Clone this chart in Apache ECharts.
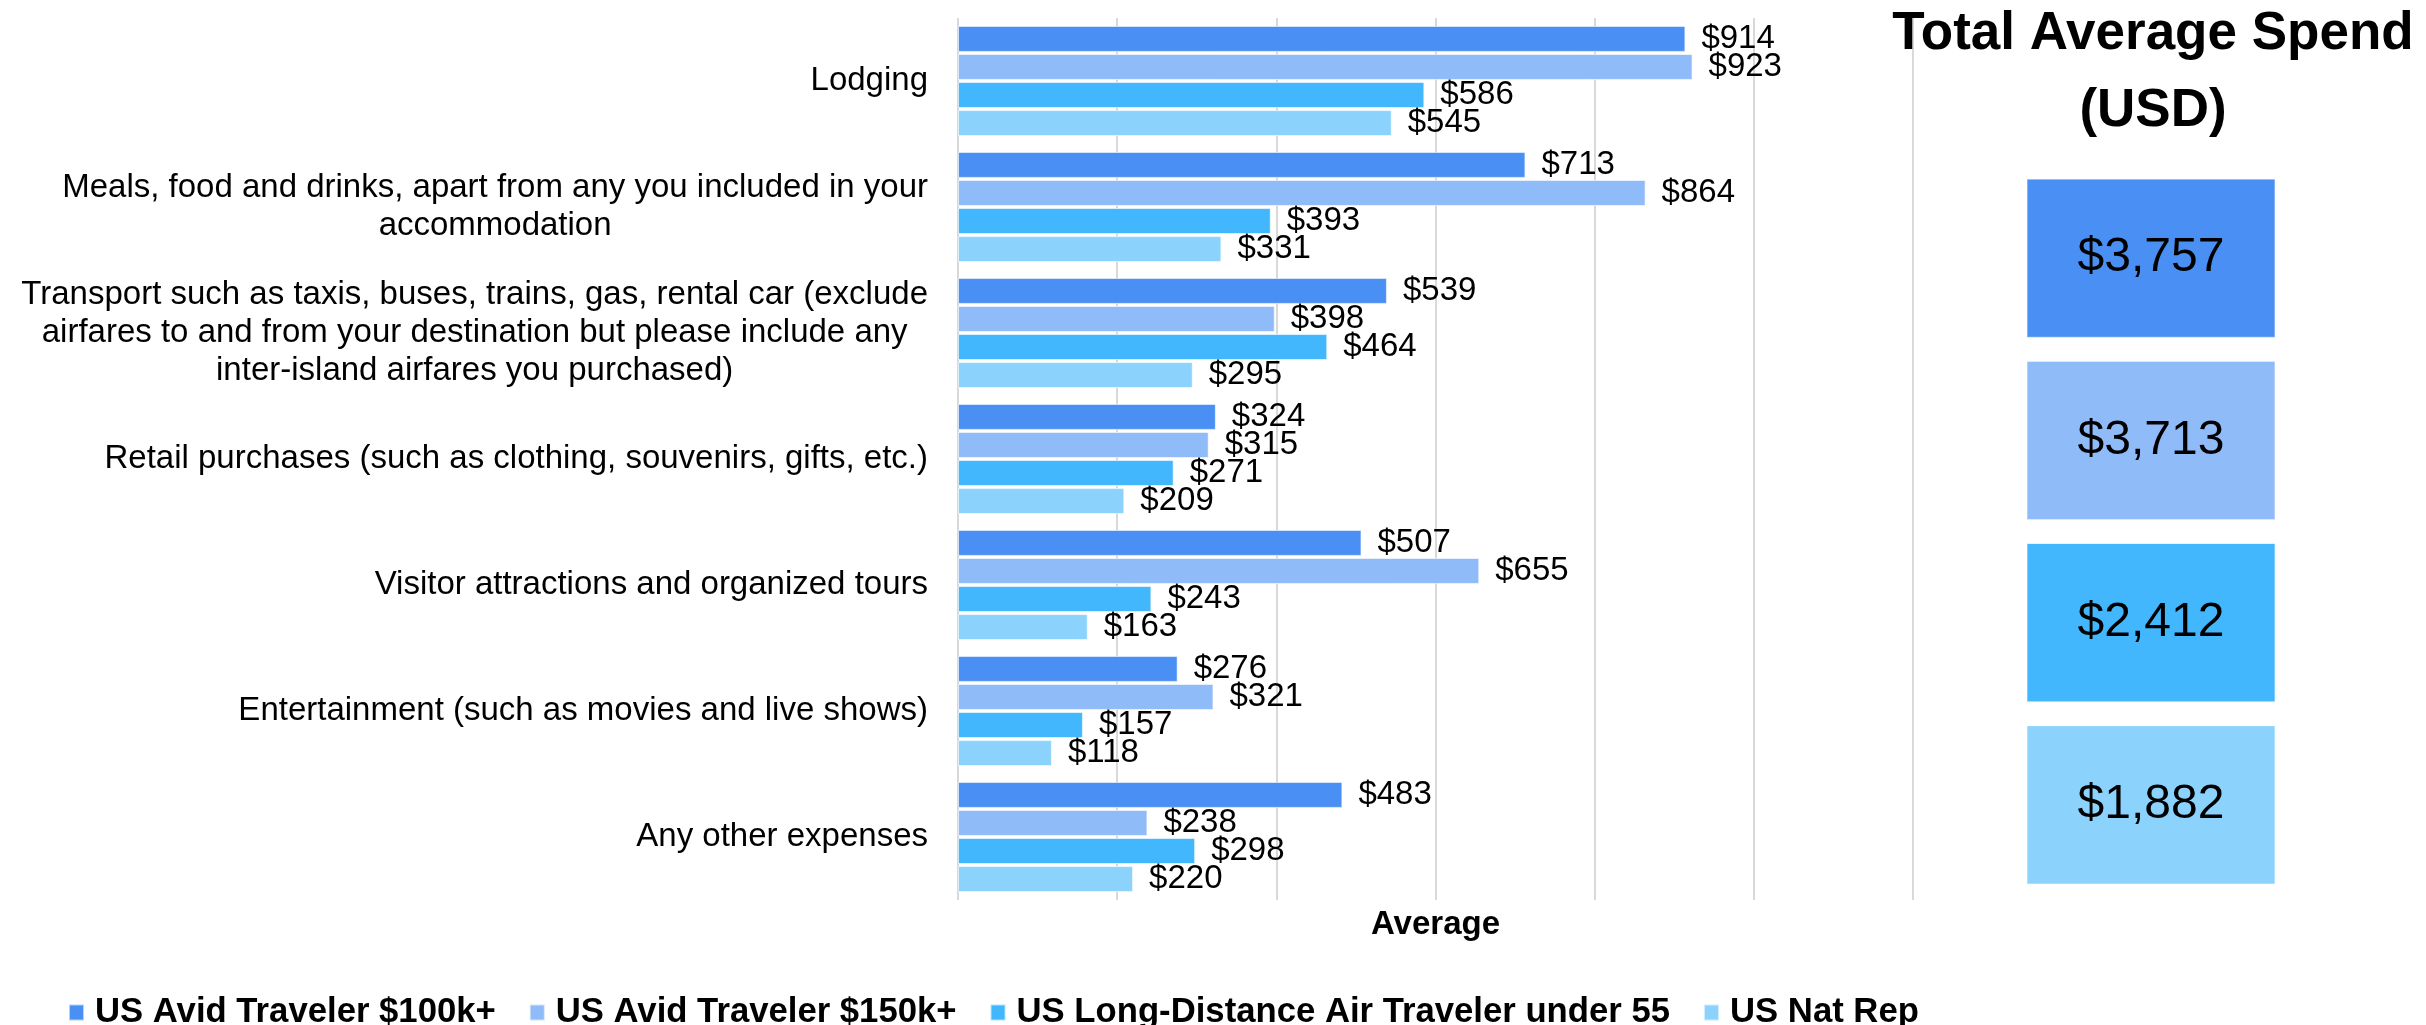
<!DOCTYPE html>
<html>
<head>
<meta charset="utf-8">
<title>Average Spend by Category</title>
<script src="https://cdn.jsdelivr.net/npm/echarts@6/dist/echarts.min.js"></script>
<style>
  html, body { margin: 0; padding: 0; background: #fff; }
  #chart { width: 2426px; height: 1025px; }
</style>
</head>
<body>
<div id="chart"></div>
<script>
// spend categories (line breaks follow the original wrapping)
const categories = [
  'Lodging',
  'Meals, food and drinks, apart from any you included in your\naccommodation',
  'Transport such as taxis, buses, trains, gas, rental car (exclude\nairfares to and from your destination but please include any\ninter-island airfares you purchased)',
  'Retail purchases (such as clothing, souvenirs, gifts, etc.)',
  'Visitor attractions and organized tours',
  'Entertainment (such as movies and live shows)',
  'Any other expenses'
];

const seriesNames = [
  'US Avid Traveler $100k+',
  'US Avid Traveler $150k+',
  'US Long-Distance Air Traveler under 55',
  'US Nat Rep'
];

const avid100k = [914, 713, 539, 324, 507, 276, 483];
const avid150k = [923, 864, 398, 315, 655, 321, 238];
const longDistance = [586, 393, 464, 271, 243, 157, 298];
const natRep = [545, 331, 295, 209, 163, 118, 220];

// total average spend per group (right-hand boxes)
const totals = [3757, 3713, 2412, 1882];

const colors = ['#4a8ff3', '#8fbbf9', '#42b7fe', '#8bd3fd'];
const FONT = '"Liberation Sans", Arial, sans-serif';

const money = (v) => '$' + Number(v).toLocaleString('en-US');

const barData = [avid100k, avid150k, longDistance, natRep];

const barSeries = barData.map((values, i) => ({
  name: seriesNames[i],
  type: 'bar',
  xAxisIndex: 0,
  yAxisIndex: 0,
  data: values,
  barWidth: 26,
  barGap: '8%',
  itemStyle: {
    color: colors[i],
    borderColor: 'rgba(255,255,255,0.6)',
    borderWidth: 1
  },
  label: {
    show: true,
    position: 'right',
    distance: 16,
    formatter: (p) => money(p.value),
    fontFamily: FONT,
    fontSize: 33,
    color: '#000'
  },
  emphasis: { disabled: true }
}));

const chart = echarts.init(document.getElementById('chart'));

chart.setOption({
  animation: false,
  color: colors,
  title: {
    text: 'Total Average Spend\n(USD)',
    left: 2153,
    top: -4,
    padding: 0,
    textAlign: 'center',
    textStyle: {
      fontFamily: FONT,
      fontSize: 53,
      fontWeight: 'bold',
      lineHeight: 77,
      color: '#000'
    }
  },
  legend: {
    data: seriesNames,
    left: 63,
    top: 990,
    icon: 'rect',
    itemWidth: 15,
    itemHeight: 16,
    itemGap: 33,
    textStyle: {
      fontFamily: FONT,
      fontSize: 34.7,
      fontWeight: 'bold',
      color: '#000',
      padding: [0, 0, 0, 6]
    }
  },
  grid: [
    { left: 958, width: 955, top: 18, bottom: 125 },
    { left: 2027, width: 248, top: 167, height: 729 }
  ],
  xAxis: [
    {
      gridIndex: 0,
      type: 'value',
      min: 0,
      max: 1200,
      interval: 200,
      name: 'Average',
      nameLocation: 'middle',
      nameGap: 8,
      nameTextStyle: {
        fontFamily: FONT,
        fontSize: 33,
        fontWeight: 'bold',
        color: '#000'
      },
      axisLabel: { show: false },
      axisTick: { show: false },
      axisLine: { show: false },
      splitLine: { lineStyle: { color: '#d9d9d9', width: 2 } }
    },
    {
      gridIndex: 1,
      type: 'category',
      data: ['Total'],
      show: false
    }
  ],
  yAxis: [
    {
      gridIndex: 0,
      type: 'category',
      inverse: true,
      data: categories,
      axisLine: { show: false },
      axisTick: { show: false },
      axisLabel: {
        margin: 30,
        // block right-aligned, each line centred inside the block
        formatter: (v) => v.split('\n').map((s) => '{c|' + s + '}').join('\n'),
        rich: {
          c: {
            align: 'center',
            fontFamily: FONT,
            fontSize: 33,
            lineHeight: 38,
            color: '#000'
          }
        }
      }
    },
    {
      gridIndex: 1,
      type: 'category',
      inverse: true,
      data: seriesNames,
      show: false
    }
  ],
  series: [
    ...barSeries,
    {
      name: 'Total',
      type: 'scatter',
      xAxisIndex: 1,
      yAxisIndex: 1,
      symbol: 'rect',
      symbolSize: [248, 158],
      data: totals.map((v, i) => ({
        value: [0, i, v],
        itemStyle: {
          color: colors[i],
          opacity: 1,
          borderColor: 'rgba(255,255,255,0.5)',
          borderWidth: 1
        }
      })),
      label: {
        show: true,
        position: 'inside',
        formatter: (p) => money(p.value[2]),
        fontFamily: FONT,
        fontSize: 48,
        color: '#000'
      },
      emphasis: { disabled: true }
    }
  ]
});
</script>
</body>
</html>
